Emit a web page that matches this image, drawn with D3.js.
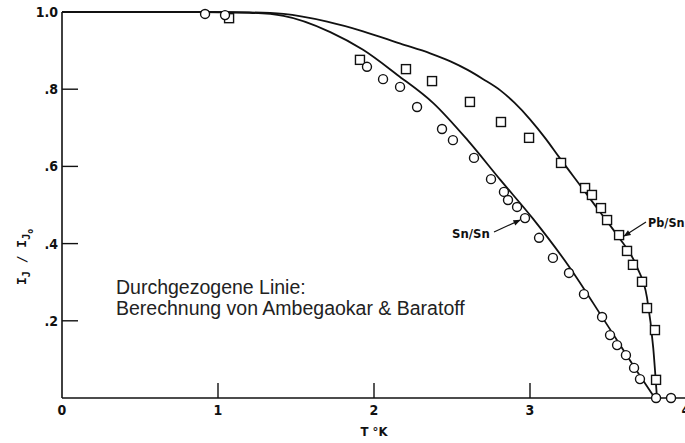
<!DOCTYPE html>
<html>
<head>
<meta charset="utf-8">
<script src="https://cdn.jsdelivr.net/npm/d3@7"></script>
<style>
  html, body { margin: 0; padding: 0; background: #fff; }
  svg { display: block; }
</style>
</head>
<body>
<script>
// ---- data ----
const xTicks = [0, 1, 2, 3, 4];
const xTickLabels = ["0", "1", "2", "3", "4"];
const yTicks = [0.2, 0.4, 0.6, 0.8, 1.0];
const yTickLabels = [".2", ".4", ".6", ".8", "1.0"];

// measured points, Sn/Sn junction (circles)
const snT = [0.917, 1.045, 1.955, 2.058, 2.167, 2.276, 2.436, 2.506, 2.641, 2.750, 2.833, 2.859, 2.917, 2.968, 3.058, 3.147, 3.250, 3.346, 3.462, 3.513, 3.558, 3.615, 3.667, 3.705, 3.808, 3.904];
const snI = [0.995, 0.992, 0.858, 0.826, 0.806, 0.754, 0.697, 0.668, 0.622, 0.567, 0.534, 0.513, 0.495, 0.466, 0.415, 0.363, 0.324, 0.269, 0.210, 0.163, 0.137, 0.111, 0.078, 0.049, 0.0, 0.0];

// measured points, Pb/Sn junction (squares)
const pbT = [1.071, 1.910, 2.205, 2.372, 2.615, 2.814, 2.994, 3.199, 3.353, 3.397, 3.455, 3.494, 3.571, 3.622, 3.660, 3.718, 3.750, 3.801, 3.808];
const pbI = [0.984, 0.876, 0.852, 0.821, 0.767, 0.715, 0.674, 0.609, 0.544, 0.526, 0.492, 0.461, 0.422, 0.381, 0.345, 0.301, 0.233, 0.176, 0.047];

// theoretical curves (Ambegaokar & Baratoff)
const snCurveT = [0, 0.9, 1.2, 1.42, 1.72, 1.93, 2.15, 2.38, 2.60, 2.81, 3.02, 3.26, 3.47, 3.69, 3.80];
const snCurveI = [1.0, 1.0, 0.998, 0.99, 0.948, 0.902, 0.837, 0.764, 0.668, 0.565, 0.464, 0.335, 0.205, 0.067, 0.0];
const pbCurveT = [0, 0.9, 1.2, 1.42, 1.7, 1.93, 2.17, 2.36, 2.49, 2.6, 2.7, 2.81, 2.9, 3.0, 3.1, 3.19, 3.34, 3.45, 3.56, 3.686, 3.75, 3.79, 3.814];
const pbCurveI = [1.0, 1.0, 0.999, 0.995, 0.975, 0.950, 0.918, 0.893, 0.872, 0.850, 0.826, 0.797, 0.765, 0.722, 0.672, 0.622, 0.541, 0.481, 0.421, 0.339, 0.26, 0.13, 0.0];

const noteLines = ["Durchgezogene Linie:", "Berechnung von Ambegaokar & Baratoff"];

// ---- drawing ----
const W = 685, H = 443;
const svg = d3.select("body").append("svg").attr("width", W).attr("height", H);

const x = d3.scaleLinear().domain([0, 4]).range([62, 686]);
const y = d3.scaleLinear().domain([0, 1]).range([398, 12]);

const labelFont = "'DejaVu Sans Condensed', 'Liberation Sans Narrow', sans-serif";

// axes lines
svg.append("line").attr("x1", x(0)).attr("x2", W).attr("y1", y(0)).attr("y2", y(0))
  .attr("stroke", "#111").attr("stroke-width", 1.6);
svg.append("line").attr("x1", x(0)).attr("x2", x(0)).attr("y1", y(0)).attr("y2", y(1))
  .attr("stroke", "#111").attr("stroke-width", 1.6);

// x ticks (inward)
svg.selectAll(".xt").data(xTicks.filter(d => d > 0 && d < 4)).enter().append("line")
  .attr("x1", d => x(d)).attr("x2", d => x(d))
  .attr("y1", y(0)).attr("y2", y(0) - 15)
  .attr("stroke", "#111").attr("stroke-width", 1.4);
svg.selectAll(".xl").data(xTicks).enter().append("text")
  .attr("x", d => x(d)).attr("y", y(0) + 17)
  .attr("text-anchor", "middle")
  .attr("font-family", labelFont).attr("font-weight", "bold").attr("font-size", 14)
  .attr("fill", "#111")
  .text((d, i) => xTickLabels[i]);

// y ticks (inward)
svg.selectAll(".yt").data(yTicks.filter(d => d < 1)).enter().append("line")
  .attr("x1", x(0)).attr("x2", x(0) + 16)
  .attr("y1", d => y(d)).attr("y2", d => y(d))
  .attr("stroke", "#111").attr("stroke-width", 1.4);
svg.selectAll(".yl").data(yTicks).enter().append("text")
  .attr("x", x(0) - 4).attr("y", d => y(d) + 5)
  .attr("text-anchor", "end")
  .attr("font-family", labelFont).attr("font-weight", "bold").attr("font-size", 14)
  .attr("fill", "#111")
  .text((d, i) => yTickLabels[i]);

// axis titles
svg.append("text").attr("x", x(2)).attr("y", 436).attr("text-anchor", "middle")
  .attr("font-family", labelFont).attr("font-weight", "bold").attr("font-size", 13)
  .attr("fill", "#111").text("T °K");

const yTitle = svg.append("text")
  .attr("transform", "translate(26,257) rotate(-90)")
  .attr("text-anchor", "middle")
  .attr("font-family", "'DejaVu Sans Mono', 'Liberation Mono', monospace")
  .attr("font-weight", "bold").attr("font-size", 13).attr("fill", "#111");
yTitle.append("tspan").text("I");
yTitle.append("tspan").attr("font-size", 10).attr("dy", 4).text("J");
yTitle.append("tspan").attr("dy", -4).text(" / I");
yTitle.append("tspan").attr("font-size", 10).attr("dy", 4).text("J");
yTitle.append("tspan").attr("font-size", 8).attr("dy", 3).text("o");

// curves
const line = d3.line().x(d => x(d[0])).y(d => y(d[1])).curve(d3.curveMonotoneX);
svg.append("path").datum(d3.zip(snCurveT, snCurveI)).attr("d", line)
  .attr("fill", "none").attr("stroke", "#111").attr("stroke-width", 1.8);
svg.append("path").datum(d3.zip(pbCurveT, pbCurveI)).attr("d", line)
  .attr("fill", "none").attr("stroke", "#111").attr("stroke-width", 1.8);

// markers
svg.selectAll(".sq").data(d3.zip(pbT, pbI)).enter().append("rect")
  .attr("x", d => x(d[0]) - 4.5).attr("y", d => y(d[1]) - 4.5)
  .attr("width", 9).attr("height", 9)
  .attr("fill", "#fff").attr("stroke", "#111").attr("stroke-width", 1.4);
svg.selectAll(".ci").data(d3.zip(snT, snI)).enter().append("circle")
  .attr("cx", d => x(d[0])).attr("cy", d => y(d[1])).attr("r", 4.5)
  .attr("fill", "#fff").attr("stroke", "#111").attr("stroke-width", 1.4);

// arrow marker
svg.append("defs").append("marker").attr("id", "ah")
  .attr("viewBox", "0 0 10 10").attr("refX", 9).attr("refY", 5)
  .attr("markerWidth", 7).attr("markerHeight", 6).attr("orient", "auto")
  .append("path").attr("d", "M0,1 L10,5 L0,9 Z").attr("fill", "#111");

// Sn/Sn label
const snIdx = 13; // point the arrow at this circle
svg.append("text").attr("x", 452).attr("y", 238)
  .attr("font-family", labelFont).attr("font-weight", "bold").attr("font-size", 13)
  .attr("fill", "#111").text("Sn/Sn");
svg.append("line").attr("x1", 494).attr("y1", 232)
  .attr("x2", x(snT[snIdx]) - 5).attr("y2", y(snI[snIdx]) + 2)
  .attr("stroke", "#111").attr("stroke-width", 1.2).attr("marker-end", "url(#ah)");

// Pb/Sn label
const pbIdx = 12;
svg.append("text").attr("x", 648).attr("y", 227)
  .attr("font-family", labelFont).attr("font-weight", "bold").attr("font-size", 12.5)
  .attr("fill", "#111").text("Pb/Sn");
svg.append("line").attr("x1", 646).attr("y1", 222)
  .attr("x2", x(pbT[pbIdx]) + 5).attr("y2", y(pbI[pbIdx]) + 1)
  .attr("stroke", "#111").attr("stroke-width", 1.2).attr("marker-end", "url(#ah)");

// note
svg.selectAll(".note").data(noteLines).enter().append("text")
  .attr("x", 116).attr("y", (d, i) => 294 + i * 21)
  .attr("font-family", "'Liberation Sans', Arial, sans-serif").attr("font-size", 19.5)
  .attr("fill", "#222").text(d => d);
</script>
</body>
</html>
